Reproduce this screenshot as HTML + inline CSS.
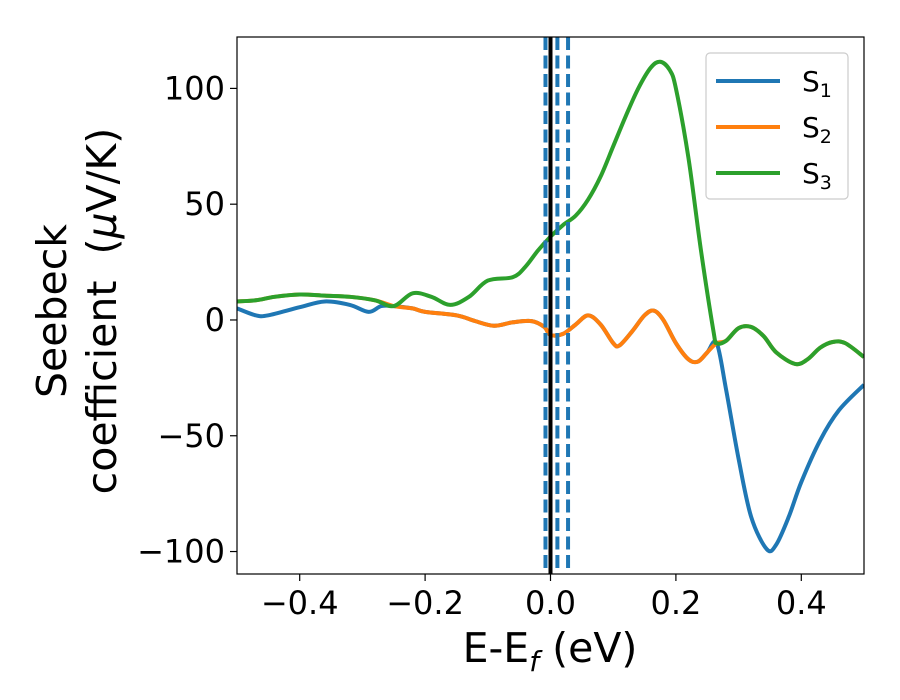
<!DOCTYPE html>
<html><head><meta charset="utf-8"><style>
body{margin:0;background:#fff}
svg{display:block;font-family:"DejaVu Sans","Liberation Sans",sans-serif}
</style></head><body>
<svg id="c" width="900" height="700" viewBox="0 0 900 700"></svg>
<script>
const xTicks=[-0.4,-0.2,0.0,0.2,0.4];
const xTickLabels=["\u22120.4","\u22120.2","0.0","0.2","0.4"];
const yTicks=[100,50,0,-50,-100];
const yTickLabels=["100","50","0","\u221250","\u2212100"];
const s1X=[-0.5,-0.47,-0.45,-0.4,-0.36,-0.32,-0.29,-0.27,-0.25,-0.22,-0.2,-0.15,-0.12,-0.09,-0.06,-0.03,-0.01,0.0,0.02,0.04,0.06,0.08,0.1,0.11,0.13,0.15,0.165,0.18,0.2,0.22,0.235,0.25,0.265,0.28,0.3,0.32,0.345,0.36,0.38,0.4,0.43,0.46,0.5];
const s1Y=[5,2,2,5.5,8,6.5,3.5,6,6,5,3.5,2,-0.5,-2.5,-1,-0.5,-3,-6.5,-6,-2,2,-2,-10,-11,-5,2,4,0,-10,-17,-18,-14,-10,-30,-60,-85,-99,-97,-85,-70,-52,-39,-28];
const s2X=[-0.5,-0.47,-0.44,-0.4,-0.36,-0.32,-0.28,-0.25,-0.22,-0.2,-0.15,-0.12,-0.09,-0.06,-0.03,-0.01,0.0,0.02,0.04,0.06,0.08,0.1,0.11,0.13,0.15,0.165,0.18,0.2,0.22,0.235,0.25,0.265,0.28,0.3,0.32,0.34,0.36,0.39,0.41,0.43,0.45,0.47,0.5];
const s2Y=[8,8.5,10,11,10.5,10,8.5,6,5,3.5,2,-0.5,-2.5,-1,-0.5,-3,-6.5,-6,-2,2,-2,-10,-11,-5,2,4,0,-10,-17,-18,-14,-10,-9,-3.5,-3,-7,-14,-19,-17,-12,-9.5,-10,-16];
const s3X=[-0.5,-0.47,-0.44,-0.4,-0.36,-0.32,-0.28,-0.25,-0.22,-0.19,-0.16,-0.13,-0.1,-0.06,-0.04,-0.02,0,0.02,0.04,0.06,0.08,0.1,0.12,0.14,0.16,0.175,0.19,0.2,0.22,0.24,0.26,0.265,0.28,0.3,0.32,0.34,0.36,0.39,0.41,0.43,0.45,0.47,0.5];
const s3Y=[8,8.5,10,11,10.5,10,8.5,6,11.5,10,6.5,10,17,18.5,23,30,36,41,45,52,62,75,88,100,109,111.5,108,100,70,30,-5,-10,-9,-3.5,-3,-7,-14,-19,-17,-12,-9.5,-10,-16];
const vLines=[-0.008,0.011,0.028];

const L=237,R=864,T=37,B=574,xmin=-0.5,xmax=0.5,ymin=-109.7,ymax=122.2;
const sx=v=>L+(v-xmin)/(xmax-xmin)*(R-L);
const sy=v=>B-(v-ymin)/(ymax-ymin)*(B-T);
const svg=document.getElementById('c');const NS='http://www.w3.org/2000/svg';
function mk(t,a,p){const e=document.createElementNS(NS,t);for(const k in a)e.setAttribute(k,a[k]);(p||svg).appendChild(e);return e;}
function path(xs,ys){const p=xs.map((x,i)=>[sx(x),sy(ys[i])]);let d=`M${p[0][0]},${p[0][1]}`;
for(let i=0;i<p.length-1;i++){const p0=p[Math.max(0,i-1)],p1=p[i],p2=p[i+1],p3=p[Math.min(p.length-1,i+2)];
d+=`C${p1[0]+(p2[0]-p0[0])/6},${p1[1]+(p2[1]-p0[1])/6} ${p2[0]-(p3[0]-p1[0])/6},${p2[1]-(p3[1]-p1[1])/6} ${p2[0]},${p2[1]}`;}return d;}
mk('clipPath',{id:'cl'}).appendChild(document.createElementNS(NS,'rect'));
const cr=svg.querySelector('#cl rect');cr.setAttribute('x',L);cr.setAttribute('y',T);cr.setAttribute('width',R-L);cr.setAttribute('height',B-T);
const g=mk('g',{'clip-path':'url(#cl)'});
let e;
e=mk('path',{d:path(s1X,s1Y),fill:'none',stroke:'#1f77b4','stroke-width':4},g);


e=mk('path',{d:path(s2X,s2Y),fill:'none',stroke:'#ff7f0e','stroke-width':4},g);


e=mk('path',{d:path(s3X,s3Y),fill:'none',stroke:'#2ca02c','stroke-width':4},g);


e=mk('line',{x1:sx(0),x2:sx(0),y1:T,y2:B,stroke:'#000','stroke-width':4});


vLines.forEach(v=>{e=mk('line',{x1:sx(v),x2:sx(v),y1:T,y2:B,stroke:'#1f77b4','stroke-width':4,'stroke-dasharray':'13 5.5'});

});
e=mk('rect',{x:L,y:T,width:R-L,height:B-T,fill:'none',stroke:'#000','stroke-width':1.2});


xTicks.forEach((v,i)=>{mk('line',{x1:sx(v),x2:sx(v),y1:B,y2:B+7,stroke:'#000','stroke-width':1.2});
e=mk('text',{x:sx(v),y:B+40,'text-anchor':'middle','font-size':32});e.textContent=xTickLabels[i];

});
yTicks.forEach((v,i)=>{mk('line',{x1:L-7,x2:L,y1:sy(v),y2:sy(v),stroke:'#000','stroke-width':1.2});
e=mk('text',{x:L-12,y:sy(v)+11,'text-anchor':'end','font-size':32});e.textContent=yTickLabels[i];

});
e=mk('text',{x:550,y:662,'text-anchor':'middle','font-size':41});
e.innerHTML='E-E<tspan font-size="28" dy="9" font-style="italic">f</tspan><tspan dy="-9"> (eV)</tspan>';


e=mk('text',{transform:'translate(66,311) rotate(-90)','text-anchor':'middle','font-size':41});e.textContent='Seebeck';


e=mk('text',{transform:'translate(116,311) rotate(-90)','text-anchor':'middle','font-size':41});
e.innerHTML='coefficient\u00a0\u00a0(<tspan font-style="italic">μ</tspan>V/K)';


const lg=mk('g',{});


mk('rect',{x:706,y:53,width:142,height:146,rx:4,fill:'#fff',stroke:'#ccc','stroke-width':1.2},lg);
const cols=['#1f77b4','#ff7f0e','#2ca02c'];
['1','2','3'].forEach((s,i)=>{const y=81+i*46;
mk('line',{x1:716,x2:780,y1:y,y2:y,stroke:cols[i],'stroke-width':4},lg);
e=mk('text',{x:802,y:y+10,'font-size':28},lg);e.innerHTML='S<tspan font-size="19" dy="6">'+s+'</tspan>';

});
</script>
</body></html>
